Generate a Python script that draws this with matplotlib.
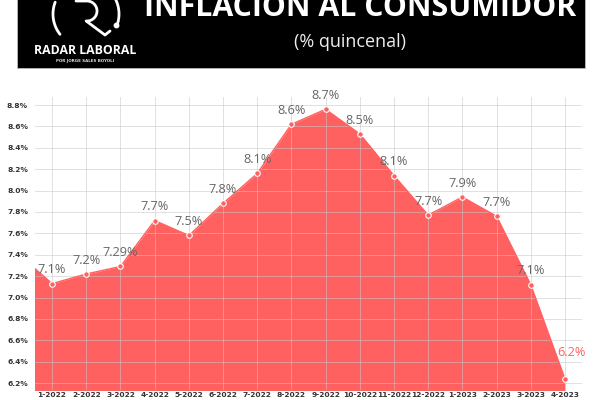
import numpy as np
import matplotlib
matplotlib.use('Agg')
import matplotlib.pyplot as plt
from matplotlib.ticker import MultipleLocator, FuncFormatter

# periods (first point is the previous fortnight, cut by the axis edge)
periods = ['', '1-2022', '2-2022', '3-2022', '4-2022', '5-2022', '6-2022', '7-2022',
           '8-2022', '9-2022', '10-2022', '11-2022', '12-2022', '1-2023',
           '2-2023', '3-2023', '4-2023']
inflation = [7.41, 7.13, 7.22, 7.29, 7.72, 7.58, 7.88, 8.16, 8.62, 8.76, 8.53,
             8.14, 7.77, 7.94, 7.76, 7.12, 6.24]
point_labels = ['', '7.1%', '7.2%', '7.29%', '7.7%', '7.5%', '7.8%', '8.1%', '8.6%',
                '8.7%', '8.5%', '8.1%', '7.7%', '7.9%', '7.7%', '7.1%', '6.2%']

title = 'INFLACIÓN AL CONSUMIDOR'
subtitle = '(% quincenal)'
brand = 'RADAR LABORAL'
brand_sub = 'POR JORGE SALES BOYOLI'

red = '#ff6060'

fig = plt.figure(figsize=(6, 4), dpi=100)
fig.patch.set_facecolor('white')

# header drawn in pixel coordinates (y grows downward)
hdr = fig.add_axes([0, 0, 1, 1])
hdr.set_xlim(0, 600)
hdr.set_ylim(400, 0)
hdr.axis('off')
hdr.patch.set_alpha(0)
hdr.add_patch(plt.Rectangle((17, -5), 568, 73, facecolor='black', edgecolor='#bbbbbb', lw=0.6))
hdr.text(360, 16, title, color='white', fontsize=21.8, fontweight='bold',
         family='Open Sans', ha='center', va='baseline')
hdr.text(350, 42, subtitle, color='#eeeeee', fontsize=13, family='Open Sans',
         ha='center', va='center')
hdr.text(85, 51, brand, color='white', fontsize=8.8, fontweight='bold',
         family='Open Sans', ha='center', va='center')
hdr.text(85, 61, brand_sub, color='#dddddd', fontsize=2.9, fontweight='bold',
         family='DejaVu Sans', ha='center', va='center')


def arc(cx, cy, r, a0, a1, lw=2.0):
    t = np.radians(np.linspace(a0, a1, 40))
    hdr.plot(cx + r * np.cos(t), cy - r * np.sin(t), color='white', lw=lw,
             solid_capstyle='round')


# logo
arc(86, 14, 33, 159, 218)
arc(86, 14, 33, -16, 50)
t = np.radians(np.linspace(90, -95, 40))
rx = [76] + list(87 + 10 * np.cos(t)) + [105, 110]
ry = [1] + list(11 - 10 * np.sin(t)) + [35, 31]
hdr.plot(rx, ry, color='white', lw=2.0, solid_capstyle='round', solid_joinstyle='round')
hdr.plot([115.5], [25], 'o', color='white', ms=3.2)

# main chart
ax = fig.add_axes([35 / 600, 0.025, 547 / 600, 0.7325])
x = np.arange(len(periods)) - 1
ax.fill_between(x, inflation, 6.0, color=red, lw=0, zorder=2)
ax.plot(x, inflation, color=red, lw=1, zorder=3)
ax.plot(x, inflation, 'o', ms=4, mfc=red, mec='white', mew=0.8, zorder=4)

for xi, yi, lab in zip(x, inflation, point_labels):
    if not lab:
        continue
    if lab == '6.2%':
        ax.annotate(lab, (xi, yi), xytext=(5, 19), textcoords='offset points',
                    ha='center', va='center', fontsize=9.2, color=red, family='Open Sans',
                    zorder=5)
    else:
        ax.annotate(lab, (xi, yi), xytext=(0, 10), textcoords='offset points',
                    ha='center', va='center', fontsize=9.2, color='#666666',
                    family='Open Sans', zorder=5)

ax.set_xlim(-0.5, 15.5)
ax.set_ylim(6.135, 8.875)
ax.set_xticks(x[1:])
ax.set_xticklabels(periods[1:])
ax.yaxis.set_major_locator(MultipleLocator(0.2))
ax.yaxis.set_major_formatter(FuncFormatter(lambda v, p: '%.1f%%' % v))
ax.tick_params(axis='both', length=0, labelsize=5.4, labelcolor='#333333')
ax.tick_params(axis='x', pad=1.5)
ax.tick_params(axis='y', pad=5)
for lbl in ax.get_xticklabels() + ax.get_yticklabels():
    lbl.set_fontweight('bold')
for s in ['top', 'bottom', 'left', 'right']:
    ax.spines[s].set_visible(False)
ax.grid(color='#c8c8c8', lw=0.7, alpha=0.55, zorder=3.5)
ax.set_axisbelow(False)

plt.savefig('out.png', dpi=100)
